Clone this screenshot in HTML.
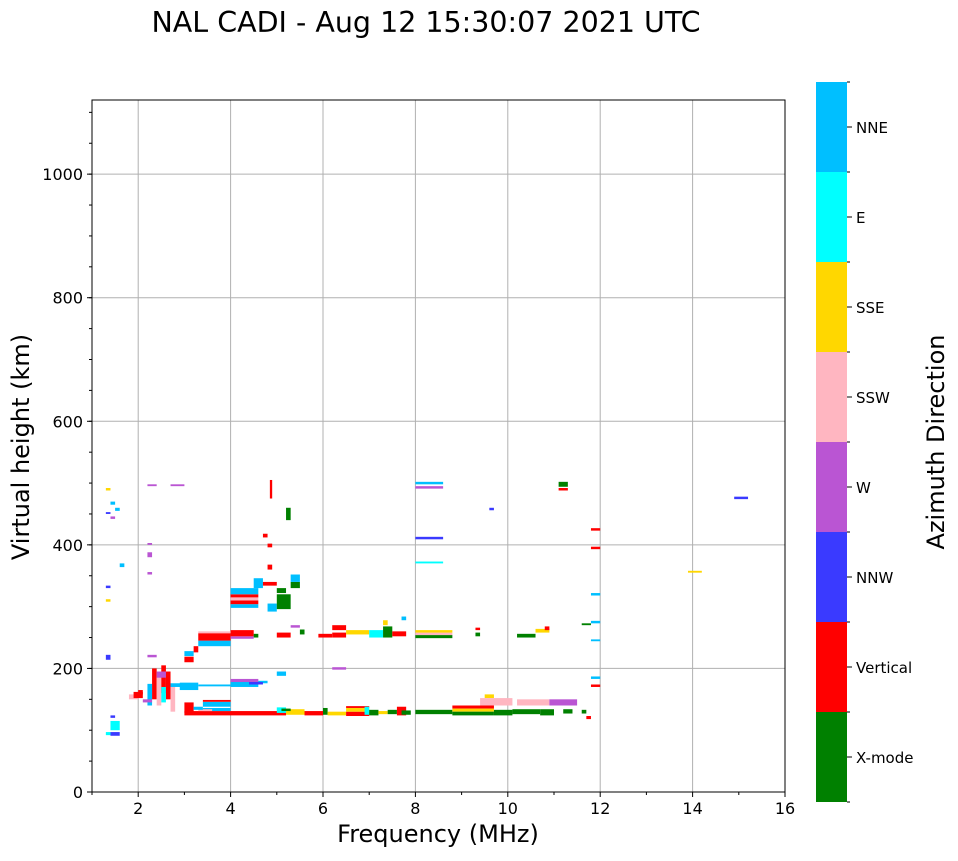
<!DOCTYPE html>
<html><head><meta charset="utf-8"><style>
body{margin:0;background:#fff;font-family:"DejaVu Sans",sans-serif}
svg text{font-family:"DejaVu Sans",sans-serif}
</style></head><body>
<svg id="c" width="958" height="857" xmlns="http://www.w3.org/2000/svg">
<text x="426" y="32" font-size="28.5" text-anchor="middle">NAL CADI - Aug 12 15:30:07 2021 UTC</text>
<g id="grid"></g><g id="marks"></g><g id="axes"></g><g id="cbar"></g>
<text x="438" y="842" font-size="24" text-anchor="middle">Frequency (MHz)</text>
<text transform="translate(29,447) rotate(-90)" font-size="24" text-anchor="middle">Virtual height (km)</text>
<text transform="translate(944,442) rotate(-90)" font-size="24" text-anchor="middle">Azimuth Direction</text>
</svg>
<script>
const categories=["X-mode","Vertical","NNW","W","SSW","SSE","E","NNE"];
const catColors=["#008000","#ff0000","#3a3aff","#ba55d3","#ffb6c1","#ffd700","#00ffff","#00bfff"];
const xTicks=[2,4,6,8,10,12,14,16];
const yTicks=[0,200,400,600,800,1000];
// [f0,f1,h0,h1,category]
const marks=[
[3.0,5.2,124,131,1],[3.4,4.0,131,136,7],[3.3,3.6,131,134,4],[3.4,4.0,138,146,7],[3.4,4.0,146,149,1],
[3.0,3.2,128,145,1],[3.2,3.4,133,138,7],
[5.2,5.6,125,134,5],[5.6,6.0,124,131,1],[5.0,5.2,128,137,6],[5.1,5.3,131,135,0],
[6.0,6.1,125,136,0],[6.1,6.5,124,130,5],[6.5,7.0,123,130,1],[6.5,7.0,130,136,5],[6.5,7.0,136,139,1],[6.9,7.0,125,138,6],
[7.0,7.2,124,133,0],[7.2,7.4,126,131,5],[7.4,7.6,126,133,0],[7.6,7.8,124,138,1],[7.7,7.9,125,132,0],
[8.0,8.8,126,133,0],[8.8,9.7,135,140,1],[8.8,9.7,130,135,5],[8.8,9.7,124,130,0],[9.5,9.7,152,158,5],
[9.4,10.1,140,152,4],[9.7,10.1,124,133,0],[10.1,10.7,126,134,0],[10.2,10.9,140,150,4],[10.7,11.0,124,134,0],
[10.9,11.5,140,150,3],[11.2,11.4,127,134,0],[11.6,11.7,127,133,0],[11.7,11.8,118,123,1],
[1.4,1.6,100,115,6],[1.4,1.6,91,97,2],[1.3,1.4,92,97,6],[1.4,1.5,120,124,2],
[1.8,2.0,150,158,4],[1.9,2.1,152,162,1],[2.0,2.1,158,165,1],
[2.3,2.4,150,200,1],[2.4,2.5,140,190,4],[2.5,2.6,160,205,1],[2.6,2.7,150,195,1],[2.4,2.6,185,195,3],[2.7,2.8,130,175,4],[2.2,2.3,140,175,7],[2.5,2.6,145,170,6],[2.1,2.3,145,150,3],
[2.7,3.0,170,176,7],[2.9,3.3,165,177,7],[3.3,4.0,171,174,7],[4.0,4.6,170,180,7],[4.0,4.6,178,183,3],[4.6,4.8,176,180,7],[5.0,5.2,188,195,7],[6.2,6.5,198,202,3],[4.4,4.7,174,178,2],
[3.0,3.2,210,219,1],[3.0,3.2,220,228,7],[3.2,3.3,226,236,1],[3.3,4.0,236,245,7],[3.3,4.0,245,257,1],[3.3,4.0,257,260,4],
[4.0,4.5,248,252,3],[4.0,4.5,252,262,1],[4.5,4.6,250,256,0],
[4.0,4.6,298,304,7],[4.0,4.6,304,310,1],[4.0,4.6,310,315,4],[4.0,4.6,315,320,1],[4.0,4.6,320,330,7],[4.5,4.7,330,346,7],[4.7,5.0,334,340,1],
[4.8,5.0,292,305,7],[5.0,5.3,296,320,0],[5.0,5.2,322,330,0],[5.3,5.5,330,340,0],[5.3,5.5,340,352,7],[4.8,4.9,360,368,1],[4.8,4.9,396,402,1],[4.7,4.8,412,418,1],[5.2,5.3,440,460,0],[4.85,4.9,475,505,1],
[5.0,5.3,250,258,1],[5.3,5.5,266,270,3],[5.5,5.6,255,263,0],[5.9,6.2,250,256,1],[6.2,6.5,250,258,1],[6.2,6.5,262,270,1],[6.5,7.0,255,262,5],[7.0,7.3,250,262,6],[7.3,7.5,250,268,0],[7.3,7.4,270,278,5],[7.5,7.8,252,260,1],[7.7,7.8,278,284,7],
[8.0,8.8,249,254,0],[8.0,8.8,254,258,4],[8.0,8.8,258,262,5],[9.3,9.4,262,266,1],[9.3,9.4,252,258,0],[10.2,10.6,250,256,0],[10.6,10.9,258,264,5],[10.8,10.9,262,268,1],
[8.0,8.6,498,502,7],[8.0,8.6,491,495,3],[8.0,8.6,409,413,2],[8.0,8.6,370,373,6],[9.6,9.7,456,460,2],[11.1,11.3,494,502,0],[11.1,11.3,488,492,1],
[14.9,15.2,474,478,2],[13.9,14.2,355,358,5],[11.8,12.0,423,427,1],[11.8,12.0,393,397,1],[11.8,12.0,318,322,7],[11.8,12.0,273,277,7],[11.6,11.8,270,273,0],[11.8,12.0,244,247,7],[11.8,12.0,183,187,7],[11.8,12.0,170,174,1],
[2.2,2.4,495,498,3],[2.7,3.0,495,498,3],[2.2,2.3,400,403,3],[2.2,2.3,380,388,3],[2.2,2.3,352,356,3],[2.2,2.4,218,222,3],[1.3,1.4,214,222,2],
[1.3,1.4,450,453,2],[1.4,1.5,442,446,3],[1.4,1.5,465,470,7],[1.5,1.6,455,460,7],[1.3,1.4,488,492,5],[1.6,1.7,364,370,7],[1.3,1.4,308,312,5],[1.3,1.4,330,334,2]
];
const X0=92,X1=785,Y0=792,Y1=100;
const xs=f=>X0+(f-1)/15*(X1-X0);
const ys=h=>Y0-h/1120*(Y0-Y1);
const NS="http://www.w3.org/2000/svg";
function mk(t,a,p){const e=document.createElementNS(NS,t);for(const k in a)e.setAttribute(k,a[k]);p.appendChild(e);return e;}
const grid=document.getElementById('grid'),axes=document.getElementById('axes'),mg=document.getElementById('marks'),cb=document.getElementById('cbar');
xTicks.forEach(v=>{
 if(v<16){const l=mk('line',{x1:xs(v),x2:xs(v),y1:Y1,y2:Y0,stroke:'#b0b0b0','stroke-width':1},grid);
 
 }
 mk('line',{x1:xs(v),x2:xs(v),y1:Y0,y2:Y0+5,stroke:'#000'},axes);
 const t=mk('text',{x:xs(v),y:Y0+22,'font-size':16,'text-anchor':'middle'},axes);t.textContent=v;
 
 
});
for(let v=1;v<16;v+=2)mk('line',{x1:xs(v),x2:xs(v),y1:Y0,y2:Y0+3,stroke:'#000'},axes);
yTicks.forEach(v=>{
 if(v>0){const l=mk('line',{x1:X0,x2:X1,y1:ys(v),y2:ys(v),stroke:'#b0b0b0','stroke-width':1},grid);
 
 }
 mk('line',{x1:X0-5,x2:X0,y1:ys(v),y2:ys(v),stroke:'#000'},axes);
 const t=mk('text',{x:X0-9,y:ys(v)+6,'font-size':16,'text-anchor':'end'},axes);t.textContent=v;
 
 
});
for(let v=50;v<1120;v+=50)mk('line',{x1:X0-3,x2:X0,y1:ys(v),y2:ys(v),stroke:'#000'},axes);
const fr=mk('rect',{x:X0,y:Y1,width:X1-X0,height:Y0-Y1,fill:'none',stroke:'#000'},axes);


marks.forEach(m=>{
 const r=mk('rect',{x:xs(m[0]),y:ys(m[3]),width:Math.max(1,xs(m[1])-xs(m[0])),height:Math.max(1.5,ys(m[2])-ys(m[3])),fill:catColors[m[4]]},mg);
 
 
});
const CX=816,CW=31,CT=82,CB=802,seg=(CB-CT)/categories.length;
categories.forEach((c,i)=>{
 const y=CB-(i+1)*seg;
 const r=mk('rect',{x:CX,y:y,width:CW,height:seg,fill:catColors[i]},cb);
 
 
 mk('line',{x1:CX+CW,x2:CX+CW+5,y1:y+seg/2,y2:y+seg/2,stroke:'#000'},cb);
 mk('line',{x1:CX+CW,x2:CX+CW+3,y1:y,y2:y,stroke:'#000'},cb);
 const t=mk('text',{x:856,y:y+seg/2+6,'font-size':15},cb);t.textContent=c;
 
 
});
mk('line',{x1:CX+CW,x2:CX+CW+3,y1:CB,y2:CB,stroke:'#000'},cb);
</script>
</body></html>
